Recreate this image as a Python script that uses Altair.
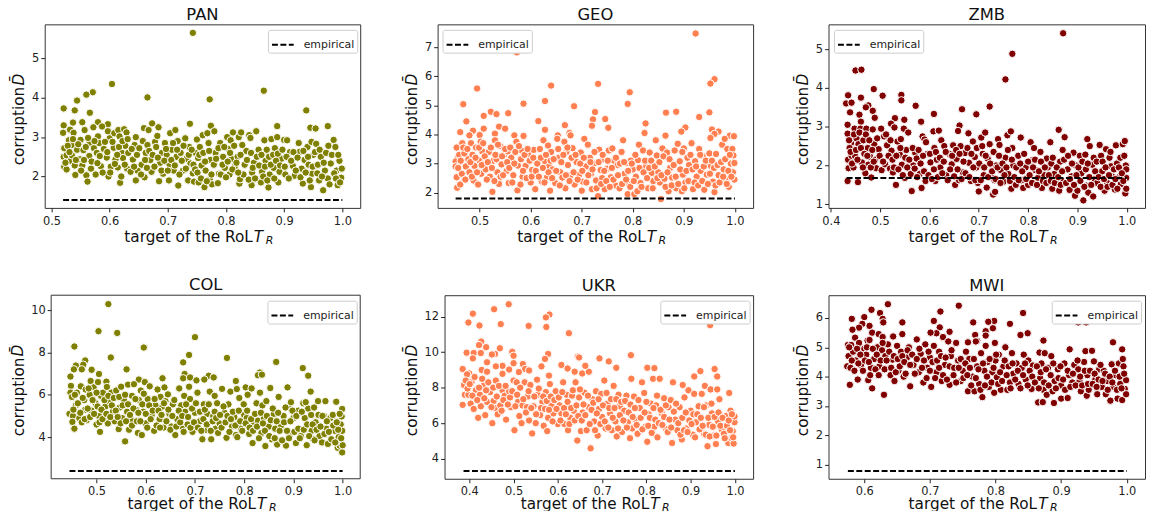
import altair as alt
import pandas as pd

PAN = [(.743,5.65),(.604,4.35),(.571,4.14),(.56,4.08),(.544,3.93),(.665,4.01),(.865,4.18),(.772,3.96),(.938,3.68),(.521,3.73),(.54,3.68),(.566,3.62),
(.975,3.28),(.888,3.28),(.945,3.24),(.954,3.22),(.738,3.34),(.774,3.29),(.673,3.35),(.597,3.33),(.58,3.38),(.537,3.37),(.553,3.38),(.521,3.3),
(.52,3.11),(.522,2.72),(.521,2.5),(.522,2.25),(.526,2.18),(.526,2.54),(.53,2.92),(.532,3.19),(.533,2.4),(.535,2.8),(.535,2.54),(.538,3.11),(.54,2.28),(.541,2.04),(.544,2.68),
(.549,2.44),(.55,2.93),(.553,2.28),(.555,2.67),(.557,3.18),(.56,2.03),(.562,1.87),(.565,2.52),(.566,2.86),(.568,2.2),(.572,3.25),(.573,2.72),(.576,2.05),(.578,2.6),(.58,3.02),(.582,2.85),(.585,2.26),(.587,3.27),(.59,2.7),
(.595,2.48),(.597,3.15),(.598,2.0),(.6,2.97),(.602,2.25),(.607,2.73),(.608,3.1),(.61,2.43),(.614,2.23),(.615,3.18),(.617,3.02),(.618,1.84),(.62,2.0),(.621,2.6),(.623,2.47),(.625,3.2),(.627,2.78),(.629,3.12),(.63,2.2),(.632,2.6),(.64,2.43),(.643,2.8),(.645,1.9),(.645,3.0),(.648,2.15),
(.655,2.3),(.657,2.9),(.659,3.23),(.66,1.98),(.662,2.6),(.665,2.8),(.667,3.18),(.67,2.42),(.672,2.12),(.678,2.88),(.682,3.03),(.684,3.25),(.685,1.88),(.687,2.35),(.69,2.6),(.692,2.07),(.695,2.85),(.698,2.55),
(.702,1.9),(.703,2.3),(.704,3.1),(.707,2.68),(.71,2.15),(.713,3.18),(.715,2.5),(.717,2.9),(.718,1.77),(.722,2.6),(.726,2.15),(.73,2.97),(.732,2.45),(.735,1.9),(.737,2.75),(.739,2.33),(.743,2.08),(.745,1.87),
(.748,2.6),(.75,2.94),(.752,2.47),(.753,1.85),(.755,2.75),(.758,2.28),(.76,3.05),(.763,1.73),(.765,2.15),(.768,3.1),(.77,2.85),(.772,1.93),(.773,2.42),(.776,1.8),(.78,3.15),(.782,2.6),(.786,1.83),(.788,2.07),(.79,2.85),
(.795,2.5),(.798,2.22),(.802,3.0),(.804,2.7),(.806,2.05),(.808,2.92),(.81,2.45),(.812,3.12),(.815,2.25),(.82,2.5),(.822,3.0),(.823,1.82),(.824,1.93),(.826,3.12),(.83,2.05),(.835,2.65),(.84,3.05),(.842,2.98),
(.844,1.78),(.845,2.1),(.848,2.35),(.852,3.15),(.856,2.68),(.86,1.85),(.862,2.12),(.866,2.92),(.868,2.4),(.87,2.68),(.873,1.72),(.875,2.05),(.878,2.95),(.882,2.22),(.884,2.72),(.888,3.0),(.89,1.85),(.892,2.12),(.895,2.45),
(.9,2.93),(.902,2.05),(.905,2.92),(.91,2.62),(.915,2.27),(.918,2.02),(.925,2.85),(.927,2.63),(.93,2.2),(.932,1.82),(.935,2.42),(.94,2.75),(.942,2.3),(.946,1.73),(.947,2.88),(.948,2.07),(.95,2.55),
(.955,2.83),(.957,2.08),(.96,1.9),(.963,2.5),(.967,1.65),(.97,2.15),(.975,1.95),(.976,2.78),(.98,2.33),(.985,2.93),(.988,2.75),(.99,2.15),(.992,1.78),(.995,2.4),(.998,1.97),(.999,2.2),
(.524,2.35),(.528,2.78),(.531,2.62),(.537,2.95),(.542,2.42),(.546,2.82),(.551,2.15),(.556,2.42),(.559,2.75),(.563,2.98),(.569,2.38),(.574,2.9),(.579,2.34),(.583,2.52),(.588,2.1),(.592,2.88),(.596,2.62),(.601,2.1),(.605,2.88),(.609,2.32),(.613,2.55),(.616,2.75),(.622,2.9),(.626,2.3),(.631,2.95),(.636,2.12),(.638,2.7),(.642,2.25),(.647,2.55),(.651,2.72),(.654,2.05),(.661,2.42),(.664,2.22),(.668,2.65),(.674,2.55),(.677,2.25),(.68,2.75),(.683,2.48),(.689,2.15),(.694,2.4),(.697,2.7),(.7,2.15),(.706,2.42),(.709,2.85),(.712,2.28),(.716,2.68),(.72,2.05),(.724,2.4),(.727,2.78),(.731,2.2),(.736,2.55),(.741,2.68),(.744,2.3),(.747,2.18),(.751,2.1),(.754,2.55),(.757,1.95),(.761,2.6),(.764,2.38),(.767,1.88),(.771,2.65),(.775,2.05),(.779,2.3),(.783,2.45),(.787,2.72),(.791,2.05),(.794,2.3),(.797,2.75),(.8,1.98),(.803,2.38),(.807,2.6),(.811,2.18),(.814,2.78),(.818,2.35),(.821,2.1),(.825,2.55),(.828,2.8),(.832,2.3),(.836,2.42),(.839,1.92),(.843,2.6),(.846,2.22),(.85,1.95),(.853,2.5),(.857,2.28),(.861,2.55),(.864,2.0),(.867,2.25),(.871,1.9),(.874,2.5),(.877,2.3),(.881,2.55),(.883,1.95),(.886,2.4),(.889,2.58),(.893,2.28),(.897,2.68),(.901,2.25),(.904,2.5),(.908,1.95),(.912,2.4),(.916,2.62),(.92,2.15),(.923,2.48),(.928,1.98),(.933,2.65),(.937,2.1),(.941,2.5),(.944,1.9),(.949,2.25),(.953,2.62),(.958,2.3),(.961,2.68),(.965,2.0),(.968,2.35),(.972,2.6),(.978,1.8),(.982,2.55),(.986,2.08),(.989,1.95),(.993,2.55),(.996,1.85)]

GEO = [(.923,7.47),(.573,6.82),(.96,5.9),(.952,5.75),(.732,5.74),(.64,5.68),(.495,5.58),(.794,5.45),(.628,5.15),(.468,5.04),(.586,5.06),(.79,5.05),(.685,4.97),
(.865,4.75),(.885,4.78),(.95,4.76),(.726,4.77),(.522,4.78),(.533,4.7),(.556,4.73),(.508,4.64),(.93,4.6),(.746,4.53),(.722,4.52),(.474,4.45),(.615,4.46),(.825,4.38),(.667,4.32),(.72,4.3),(.538,4.27),(.752,4.23),(.903,4.24),
(.55,4.2),(.508,4.2),(.628,4.16),(.955,4.17),(.895,4.1),(.968,4.1),(.487,4.13),(.462,4.08),(.823,4.05),(.53,4.03),(.96,4.02),(.676,4.05),(.568,3.97),(.586,3.95),(.864,3.96),(.952,3.88),(.99,3.96),(.998,3.94),
(.48,3.97),(.5,3.98),(.653,3.97),(.678,3.97),(.455,3.55),(.457,3.2),(.453,3.07),(.453,2.9),(.455,2.53),(.456,2.17),(.462,2.28),(.46,3.3),(.465,2.65),(.466,3.7),(.47,3.35),(.473,2.9),(.478,3.15),(.48,2.7),(.483,3.7),
(.486,3.3),(.488,2.42),(.49,2.92),(.493,3.55),(.497,2.28),(.5,3.1),(.503,2.65),(.502,3.75),(.505,3.42),(.508,2.98),(.512,2.8),(.518,3.4),(.52,2.55),(.525,2.03),(.527,3.1),(.53,3.8),(.533,3.15),(.535,2.7),(.538,2.3),(.54,3.6),
(.543,2.97),(.548,3.3),(.553,2.75),(.555,3.42),(.557,2.33),(.562,3.2),(.566,2.6),(.572,3.75),(.574,2.08),(.575,2.93),(.58,2.28),(.582,3.45),(.584,2.55),(.59,2.92),(.596,3.3),(.6,2.35),(.603,2.78),(.606,3.47),(.609,2.12),
(.618,3.5),(.622,2.38),(.625,3.8),(.628,3.08),(.632,2.53),(.634,3.62),(.636,2.9),(.638,2.07),(.64,3.4),(.643,2.8),(.648,2.33),(.652,3.85),(.655,3.2),(.658,2.7),(.662,2.52),(.666,3.75),(.668,2.15),(.67,3.4),(.673,2.95),(.678,2.6),(.682,3.53),(.686,2.28),(.69,3.05),
(.695,2.62),(.698,3.38),(.7,2.07),(.702,2.38),(.705,3.85),(.708,2.9),(.712,3.65),(.716,3.2),(.718,2.65),(.72,2.12),(.724,3.0),(.728,2.42),(.732,1.88),(.734,3.48),(.737,2.78),(.74,2.5),(.742,3.15),(.745,2.12),(.75,2.82),
(.753,3.45),(.757,2.53),(.76,3.52),(.763,3.1),(.766,2.25),(.77,2.95),(.774,2.15),(.778,3.4),(.781,3.8),(.784,2.65),(.788,3.02),(.79,1.95),(.792,2.35),(.796,3.1),(.8,2.8),(.803,1.95),(.806,2.55),(.81,3.12),(.812,3.65),(.815,2.33),
(.82,3.45),(.826,2.9),(.83,2.15),(.833,3.38),(.837,2.68),(.84,2.4),(.845,3.8),(.847,3.28),(.85,2.7),(.853,2.35),(.855,1.78),(.858,3.52),(.862,2.48),(.867,3.38),(.87,2.05),(.873,2.85),(.877,2.52),(.882,3.45),(.885,2.15),(.888,3.68),(.892,3.08),
(.896,2.05),(.898,2.62),(.9,3.52),(.903,2.35),(.907,3.2),(.91,2.95),(.915,3.7),(.918,2.12),(.922,3.08),(.925,2.55),(.93,3.5),(.933,2.75),(.937,3.25),(.94,2.1),(.945,2.62),(.95,3.35),(.953,2.92),(.957,2.38),(.96,2.02),(.963,3.33),(.968,2.6),(.975,3.65),(.978,2.8),(.98,3.85),(.982,2.45),(.985,3.5),(.988,2.2),
(.992,3.0),(.995,3.5),(.996,2.7),(.997,3.28),(.999,2.45),(.999,3.02),
(.458,2.85),(.463,3.1),(.468,3.55),(.472,2.45),(.476,3.5),(.482,3.05),(.485,2.55),(.492,3.2),(.495,2.7),(.499,3.55),(.504,2.95),(.507,3.7),(.51,3.25),(.514,2.45),(.516,3.05),(.522,3.55),(.524,2.85),(.529,2.4),(.531,3.3),(.536,3.65),(.541,2.55),(.544,3.25),(.546,2.6),(.55,3.5),(.554,3.05),(.558,2.85),(.56,3.55),(.564,2.35),(.568,3.0),(.57,3.4),(.577,3.6),(.581,3.15),(.585,2.75),(.588,3.3),(.592,2.5),(.594,3.5),(.598,3.1),(.602,2.55),(.605,3.2),(.61,2.75),(.613,3.0),(.616,2.55),(.62,3.2),(.624,2.85),(.627,2.35),(.63,3.3),(.635,2.7),(.639,3.1),(.642,2.5),(.645,3.15),(.65,2.75),(.654,3.5),(.657,2.25),(.66,3.05),(.664,3.3),(.669,2.6),(.672,3.55),(.676,2.4),(.68,3.2),(.684,2.7),(.688,3.3),(.692,2.45),(.697,3.0),(.701,2.75),(.704,3.2),(.709,2.35),(.713,2.6),(.717,3.05),(.721,2.8),(.725,3.4),(.729,2.15),(.733,3.05),(.738,2.3),(.741,3.3),(.744,2.75),(.748,2.4),(.751,3.1),(.755,2.2),(.759,2.85),(.762,2.45),(.767,3.2),(.771,2.6),(.775,3.0),(.779,2.3),(.783,3.05),(.787,2.45),(.791,2.75),(.795,2.2),(.798,3.0),(.802,2.4),(.805,3.3),(.809,2.05),(.813,2.85),(.817,2.2),(.821,2.7),(.824,3.1),(.828,2.5),(.832,2.85),(.836,3.1),(.839,2.15),(.843,2.9),(.848,2.5),(.852,3.05),(.856,2.6),(.86,3.25),(.864,2.2),(.868,2.7),(.872,3.15),(.876,2.25),(.88,2.95),(.884,2.55),(.889,2.3),(.893,2.8),(.897,3.4),(.901,2.15),(.905,2.75),(.909,2.4),(.913,3.3),(.917,2.8),(.921,2.35),(.924,2.9),(.928,2.25),(.932,3.3),(.936,2.4),(.939,2.9),(.943,3.1),(.947,2.3),(.951,2.65),(.955,3.1),(.959,2.85),(.962,2.25),(.966,2.95),(.97,2.35),(.973,3.05),(.977,2.55),(.981,3.15),(.984,2.3),(.987,2.75),(.99,3.3),(.993,2.55)]

ZMB = [(.871,5.41),(.768,4.88),(.45,4.45),(.462,4.47),(.754,4.22),(.487,3.97),(.435,3.81),(.543,3.82),(.505,3.8),(.461,3.75),(.543,3.68),(.431,3.6),(.442,3.62),(.476,3.55),(.572,3.54),(.722,3.52),(.471,3.5),(.666,3.45),(.485,3.41),(.439,3.37),(.695,3.32),(.609,3.33),(.458,3.31),
(.489,3.23),(.53,3.22),(.549,3.18),(.583,3.13),(.522,3.08),(.461,3.13),(.434,3.05),(.661,3.03),(.434,2.82),(.448,2.95),(.441,2.58),(.438,2.45),(.435,2.15),(.436,1.93),(.434,1.6),(.455,1.57),(.442,2.25),(.446,1.95),(.449,2.25),(.452,2.7),(.456,2.55),(.46,2.95),(.463,2.08),(.466,2.65),(.47,1.8),(.472,2.95),(.475,2.45),(.476,2.02),(.48,2.22),(.482,1.69),
(.485,2.93),(.488,2.55),(.49,2.15),(.492,1.93),(.497,2.42),(.502,2.95),(.503,1.88),(.508,2.75),(.51,2.03),(.514,2.52),(.52,1.92),(.523,2.38),(.526,1.82),(.529,2.98),(.532,1.5),(.535,2.62),(.54,2.28),(.542,2.68),(.544,2.02),(.548,2.95),(.55,1.68),(.553,2.4),(.557,2.85),(.564,1.34),(.567,2.0),(.571,2.33),(.574,2.18),
(.58,1.78),(.584,1.42),(.586,2.75),(.59,2.67),(.592,1.6),(.596,2.3),(.602,2.08),(.608,2.88),(.61,2.45),(.612,1.6),(.615,2.15),(.619,2.9),(.622,1.95),(.624,2.65),(.63,2.5),(.634,1.75),(.64,2.3),(.645,2.03),(.648,2.52),(.652,1.5),(.655,2.17),(.658,2.89),(.66,1.62),(.663,2.5),(.668,1.82),(.672,2.32),(.679,2.83),(.68,2.07),(.684,1.6),(.688,2.62),(.692,2.22),(.695,1.95),(.698,1.55),(.7,1.33),
(.705,2.72),(.708,2.3),(.71,1.75),(.713,2.85),(.716,1.43),(.718,2.18),(.722,2.55),(.725,1.75),(.729,1.25),(.732,1.62),(.733,1.32),(.735,2.0),(.739,2.68),(.742,2.53),(.745,1.88),(.75,1.58),(.754,2.2),(.758,2.78),(.76,1.78),(.765,2.88),(.766,1.4),(.768,2.45),(.77,2.0),(.775,1.5),(.78,2.25),(.785,2.72),(.787,1.62),(.79,1.42),(.795,1.95),(.8,1.5),(.805,2.6),(.807,2.13),
(.812,2.45),(.815,1.88),(.82,1.68),(.825,2.35),(.828,1.42),(.833,1.75),(.838,2.18),(.84,1.95),(.845,2.6),(.847,2.05),(.849,1.4),(.853,1.78),(.862,2.92),(.863,1.35),(.865,2.1),(.868,1.6),(.87,2.4),(.874,2.73),(.88,1.9),(.884,1.37),(.888,1.72),(.892,2.33),(.895,1.22),(.897,2.0),(.9,1.35),(.905,2.25),(.908,1.8),(.912,1.1),(.916,2.28),(.918,1.48),(.92,2.68),(.922,1.3),(.925,2.5),(.93,2.02),(.932,1.2),(.935,1.65),
(.94,1.55),(.945,2.53),(.948,2.25),(.95,1.85),(.955,1.35),(.958,2.42),(.96,1.55),(.965,2.2),(.968,1.98),(.97,1.72),(.976,1.38),(.978,2.52),(.98,2.05),(.985,1.7),(.988,1.52),(.992,2.55),(.996,2.63),(.997,1.28),(.998,2.0),(.999,1.68),(.999,1.4),(.999,1.9),
(.437,2.65),(.44,2.35),(.443,2.05),(.447,2.8),(.451,2.4),(.454,2.15),(.458,2.85),(.461,2.45),(.465,1.95),(.468,2.3),(.471,2.8),(.474,2.25),(.478,2.65),(.481,1.95),(.484,2.4),(.487,2.1),(.494,2.7),(.499,2.25),(.506,2.1),(.512,2.8),(.517,2.25),(.521,2.65),(.525,2.15),(.528,1.95),(.533,2.25),(.537,1.9),(.541,2.45),(.546,1.75),(.551,2.2),(.555,1.95),(.559,2.15),(.562,1.78),(.566,2.45),(.57,1.92),(.575,1.7),(.578,2.4),(.582,2.05),(.587,2.25),(.589,1.85),(.593,2.6),(.598,1.75),(.601,2.3),(.605,1.65),(.609,1.9),(.613,2.35),(.617,1.7),(.621,2.2),(.626,1.8),(.629,2.1),(.633,2.35),(.637,1.62),(.642,1.9),(.646,2.25),(.65,1.72),(.654,2.4),(.657,1.9),(.661,2.3),(.665,1.65),(.669,2.1),(.673,1.8),(.677,2.45),(.681,1.7),(.685,2.3),(.689,1.95),(.693,1.62),(.696,2.45),(.701,2.05),(.704,1.62),(.707,2.5),(.711,1.95),(.714,2.25),(.719,1.7),(.723,2.05),(.727,1.85),(.73,2.35),(.734,1.65),(.738,1.95),(.741,2.25),(.744,1.55),(.748,2.05),(.752,1.75),(.756,1.95),(.759,2.4),(.763,1.6),(.767,2.15),(.772,1.7),(.776,1.95),(.781,1.62),(.784,2.05),(.788,1.85),(.792,2.3),(.796,1.65),(.8,2.1),(.803,1.75),(.808,1.55),(.81,1.95),(.814,2.15),(.818,1.5),(.822,1.85),(.826,2.1),(.83,1.6),(.834,1.95),(.837,1.55),(.842,1.75),(.846,1.6),(.85,2.2),(.854,1.55),(.858,1.95),(.861,1.7),(.866,1.5),(.869,1.85),(.873,2.15),(.877,1.55),(.881,2.25),(.885,1.65),(.889,2.05),(.893,1.5),(.898,1.75),(.902,1.95),(.906,1.6),(.91,2.1),(.914,1.45),(.917,1.9),(.921,2.05),(.924,1.7),(.928,1.5),(.933,2.2),(.936,1.85),(.939,2.1),(.943,1.7),(.947,1.45),(.951,2.1),(.954,1.65),(.957,1.95),(.961,1.45),(.964,1.75),(.967,2.35),(.971,1.5),(.974,1.9),(.977,1.65),(.981,1.4),(.984,1.95),(.987,2.2),(.99,1.8),(.993,1.6),(.995,2.25)]

COL = [(.524,10.28),(.504,9.0),(.542,8.92),(.7,8.72),(.455,8.28),(.596,8.23),(.688,7.88),(.529,7.76),(.765,7.74),(.477,7.62),(.865,7.55),(.676,7.53),(.473,7.42),(.458,7.38),(.454,7.2),(.47,7.2),(.561,7.2),(.919,7.26),(.832,7.05),(.828,6.92),(.836,6.95),(.679,6.98),(.49,7.18),(.505,6.98),(.447,6.86),(.93,6.9),(.728,6.9),(.738,6.82),(.586,6.72),(.676,6.78),(.69,6.82),(.703,6.68),(.719,6.72),(.634,6.78),(.783,6.65),(.52,6.62),
(.448,6.42),(.447,6.1),(.45,5.9),(.445,5.1),(.452,5.0),(.451,4.72),(.455,4.4),(.458,5.5),(.46,6.1),(.465,4.9),(.468,6.4),(.47,4.7),(.475,5.75),(.477,5.3),(.478,6.25),(.48,4.8),(.486,6.0),(.488,6.65),(.49,5.25),(.494,6.35),(.498,5.6),(.5,4.6),(.503,6.6),(.505,5.0),(.507,4.25),(.509,5.95),(.513,6.1),(.518,5.45),(.521,6.37),(.523,4.65),(.526,5.7),(.53,6.1),
(.533,5.2),(.537,4.75),(.54,6.2),(.545,4.38),(.547,5.4),(.55,6.38),(.552,4.9),(.556,5.75),(.558,3.8),(.562,5.2),(.564,6.48),(.566,4.35),(.57,4.8),(.572,5.95),(.576,6.5),(.58,5.3),(.584,4.2),(.586,5.75),(.59,6.2),(.592,4.1),(.595,5.2),(.598,6.6),(.6,4.65),(.604,5.8),(.608,6.4),(.612,5.05),(.617,4.3),(.62,5.5),(.624,6.25),(.628,4.85),(.63,5.9),(.634,5.45),(.636,4.45),(.638,6.35),(.64,5.7),(.645,6.02),(.648,5.1),(.652,4.5),
(.655,5.55),(.66,4.1),(.664,4.85),(.668,6.3),(.672,5.5),(.675,4.4),(.678,5.95),(.68,5.2),(.685,4.6),(.688,6.38),(.69,5.8),(.695,4.25),(.7,5.15),(.705,6.1),(.71,4.75),(.715,3.9),(.718,5.55),(.722,4.35),(.725,5.1),(.73,6.15),(.733,3.9),(.737,5.0),(.74,5.95),(.742,4.4),(.745,5.6),(.75,4.65),(.755,6.28),(.76,5.15),(.764,3.97),(.768,5.55),(.772,6.15),(.775,4.5),(.78,4.95),(.783,4.1),(.785,6.27),(.79,5.85),
(.793,4.4),(.8,5.05),(.803,6.35),(.805,4.9),(.807,6.0),(.81,4.15),(.815,6.3),(.817,3.72),(.82,4.6),(.825,5.6),(.828,4.78),(.832,6.1),(.835,4.2),(.837,5.5),(.84,4.9),(.843,3.58),(.845,5.7),(.85,4.5),(.853,6.32),(.856,3.9),(.86,5.1),(.863,4.4),(.867,3.65),(.87,5.9),(.875,4.55),(.88,5.0),(.885,3.6),(.888,6.35),(.89,5.4),(.892,4.05),(.895,5.65),(.9,4.9),(.905,3.72),(.91,5.25),(.915,4.05),(.92,5.6),(.923,4.9),(.927,3.62),(.93,5.35),
(.935,6.15),(.937,4.3),(.94,3.92),(.942,5.4),(.945,4.7),(.95,5.7),(.953,4.05),(.958,3.75),(.962,5.0),(.965,5.7),(.967,4.4),(.97,3.68),(.975,4.9),(.98,5.05),(.984,4.3),(.987,5.67),(.99,3.5),(.992,4.0),(.994,3.6),(.996,4.6),(.998,4.98),(.999,5.33),(.999,4.3),(.999,3.28),(1.0,3.62),
(.453,5.3),(.456,6.0),(.462,5.6),(.467,5.15),(.472,5.85),(.476,4.85),(.482,5.35),(.484,6.3),(.487,4.95),(.492,5.75),(.495,5.1),(.5,6.1),(.502,5.45),(.506,4.7),(.51,5.3),(.512,4.85),(.516,5.75),(.52,5.1),(.524,5.95),(.528,4.95),(.531,5.5),(.535,5.85),(.539,5.25),(.543,4.95),(.546,5.9),(.549,4.65),(.553,5.5),(.558,6.0),(.56,4.75),(.564,5.55),(.568,5.05),(.572,4.55),(.575,5.35),(.579,5.8),(.582,4.75),(.585,5.15),(.589,4.75),(.593,5.55),(.596,6.05),(.6,5.1),(.603,4.45),(.607,5.5),(.61,4.85),(.614,5.25),(.618,5.8),(.622,4.55),(.626,5.25),(.629,4.45),(.632,5.05),(.637,5.6),(.642,4.75),(.646,5.3),(.65,4.35),(.654,5.0),(.658,5.75),(.662,4.5),(.667,5.25),(.67,4.7),(.674,5.0),(.677,4.25),(.682,5.55),(.686,4.95),(.691,4.45),(.694,5.35),(.698,4.7),(.702,5.6),(.706,4.45),(.71,5.2),(.713,4.3),(.717,4.85),(.72,5.3),(.724,4.6),(.728,5.55),(.732,4.3),(.736,4.75),(.74,5.2),(.743,4.9),(.747,4.2),(.751,5.05),(.754,4.45),(.758,5.45),(.762,4.7),(.766,5.0),(.77,4.25),(.773,4.85),(.777,5.2),(.782,4.55),(.786,4.0),(.789,5.25),(.792,4.75),(.796,4.3),(.799,5.55),(.803,4.65),(.806,5.25),(.811,4.45),(.814,4.85),(.818,4.3),(.822,5.1),(.826,4.5),(.83,3.95),(.834,5.15),(.838,4.65),(.842,4.3),(.846,5.0),(.851,4.05),(.854,4.8),(.858,5.35),(.862,3.95),(.866,4.75),(.869,5.15),(.872,4.3),(.877,3.85),(.881,4.7),(.884,5.4),(.887,4.3),(.891,3.95),(.894,4.75),(.898,5.25),(.902,4.25),(.906,5.0),(.91,4.4),(.913,3.95),(.917,5.2),(.921,4.35),(.925,5.65),(.928,4.6),(.932,4.05),(.936,5.05),(.939,4.6),(.943,3.85),(.947,4.35),(.951,5.05),(.955,4.5),(.959,5.0),(.963,4.15),(.968,4.75),(.972,4.25),(.977,3.9),(.981,4.55),(.985,3.75),(.988,4.7),(.991,4.35),(.994,5.1),(.997,3.95)]

UKR = [(.489,12.7),(.456,12.42),(.408,12.17),(.581,12.12),(.573,11.96),(.398,11.67),(.471,11.58),(.423,11.5),(.534,11.48),(.574,11.42),(.944,11.52),(.625,11.07),(.427,10.6),(.422,10.4),(.438,10.28),(.469,10.22),(.394,9.97),(.41,9.95),(.426,9.95),(.497,10.02),(.458,9.9),(.451,9.87),(.578,9.9),(.5,9.8),(.645,9.75),(.648,9.7),(.408,9.65),(.694,9.65),(.765,9.83),(.571,9.62),(.715,9.48),(.44,9.43),(.5,9.38),
(.608,9.28),(.521,9.33),(.563,9.2),(.732,9.12),(.802,9.12),(.818,9.1),(.954,9.05),(.526,9.05),(.622,9.08),(.475,9.23),(.46,9.2),(.49,9.02),(.428,9.0),(.385,9.05),(.44,8.9),(.4,8.8),(.475,8.78),(.512,8.88),(.535,8.97),(.638,8.9),(.655,8.8),(.67,8.9),(.662,9.23),(.922,8.93),(.96,8.63),(.908,8.63),(.58,8.68),
(.388,8.15),(.39,7.6),(.385,7.03),(.395,8.75),(.398,7.6),(.403,7.1),(.405,8.3),(.41,6.8),(.415,7.85),(.42,6.3),(.424,7.6),(.426,6.95),(.432,8.1),(.436,6.45),(.44,7.2),(.447,7.75),(.452,6.0),(.455,7.25),(.458,6.85),(.46,8.4),(.464,6.5),(.47,7.0),(.475,7.85),(.48,7.55),(.483,6.2),(.49,7.8),(.494,6.9),(.5,8.4),(.502,5.6),(.507,8.3),(.51,7.2),(.513,6.4),(.518,6.0),(.52,7.0),(.525,8.3),(.53,6.9),(.532,7.5),(.535,6.15),(.538,8.15),(.542,5.42),(.545,6.95),(.55,6.0),(.553,8.45),(.555,7.6),(.56,6.45),(.565,7.2),(.568,5.85),(.573,7.75),(.576,5.55),(.578,6.3),(.582,8.2),(.586,7.0),(.59,6.55),
(.595,7.8),(.6,5.95),(.604,7.0),(.608,6.55),(.612,8.3),(.615,5.95),(.62,7.6),(.623,5.6),(.628,6.3),(.632,7.55),(.636,6.7),(.64,8.3),(.644,5.02),(.648,7.45),(.652,5.55),(.656,6.6),(.66,7.72),(.665,5.6),(.67,6.9),(.674,4.58),(.678,7.35),(.682,6.1),(.686,7.8),(.69,5.3),(.693,6.8),(.698,7.65),(.7,6.35),(.705,8.4),(.708,5.7),(.712,7.1),(.718,6.55),(.722,5.6),(.726,8.1),(.73,6.1),(.733,5.25),(.737,7.6),(.74,6.95),(.745,5.5),(.75,6.7),(.755,7.55),(.758,6.05),(.763,5.15),(.766,8.5),(.768,5.7),(.772,7.5),(.776,6.2),(.78,5.4),(.785,6.85),(.79,8.3),(.795,7.7),(.798,5.8),(.802,4.95),(.805,6.5),(.81,7.1),(.815,8.5),(.818,5.8),(.822,7.0),(.825,5.2),(.83,8.5),(.835,6.55),(.84,7.4),(.845,5.65),(.85,6.9),(.855,7.3),(.858,4.88),(.86,8.3),(.865,6.2),(.87,5.6),(.875,6.9),(.88,5.08),(.882,8.15),(.886,7.45),(.89,5.7),(.895,7.85),(.9,6.7),(.905,5.35),(.908,7.65),(.912,6.05),(.918,6.95),(.925,7.65),(.93,5.4),(.932,8.1),(.935,7.0),(.938,4.7),(.942,5.9),(.945,7.9),(.948,6.55),(.952,5.3),(.957,4.82),(.96,7.9),(.962,6.1),(.965,7.35),(.97,5.65),(.975,5.4),(.98,6.4),(.985,4.88),(.987,7.7),(.99,6.7),(.992,5.15),(.995,5.55),(.997,4.85),(.999,6.05),(.999,6.38),
(.392,8.4),(.396,7.95),(.401,8.2),(.407,7.55),(.412,8.6),(.418,7.3),(.422,8.0),(.429,8.5),(.434,7.4),(.438,7.85),(.443,8.3),(.45,6.9),(.454,8.0),(.462,7.5),(.467,8.1),(.473,6.7),(.477,7.3),(.482,8.1),(.487,7.05),(.492,7.45),(.497,7.8),(.504,6.95),(.508,7.6),(.515,8.0),(.522,7.35),(.528,6.6),(.534,7.8),(.54,6.85),(.547,7.5),(.551,6.5),(.557,7.95),(.562,6.85),(.567,7.5),(.571,6.8),(.575,7.25),(.58,6.75),(.584,7.5),(.588,6.1),(.592,7.3),(.597,6.8),(.602,7.45),(.606,6.15),(.61,7.75),(.614,6.85),(.618,6.5),(.622,7.2),(.626,5.95),(.63,6.85),(.634,7.85),(.638,6.15),(.642,7.0),(.646,6.4),(.65,7.9),(.654,6.15),(.658,7.05),(.662,6.45),(.668,7.55),(.672,5.95),(.676,6.75),(.68,7.15),(.684,5.6),(.688,6.55),(.692,7.35),(.696,5.95),(.702,7.0),(.706,6.1),(.71,7.7),(.714,5.75),(.716,6.85),(.72,7.35),(.724,6.3),(.728,6.85),(.732,7.35),(.736,5.7),(.74,6.45),(.743,7.2),(.748,6.15),(.752,7.25),(.756,5.75),(.76,6.6),(.764,7.05),(.769,6.35),(.774,6.85),(.778,5.9),(.782,7.3),(.787,6.3),(.791,5.65),(.796,6.6),(.8,7.2),(.804,5.85),(.808,6.3),(.812,5.45),(.816,6.85),(.82,6.2),(.824,7.55),(.828,6.0),(.832,6.75),(.836,5.9),(.84,6.35),(.844,7.0),(.848,5.5),(.852,6.2),(.856,5.75),(.862,6.65),(.867,7.1),(.872,6.0),(.877,5.35),(.881,6.3),(.885,5.6),(.889,6.6),(.893,5.5),(.897,6.15),(.902,5.95),(.906,6.5),(.91,5.2),(.915,6.5),(.92,5.65),(.923,6.3),(.927,5.85),(.93,6.9),(.934,5.35),(.94,6.3),(.943,5.25),(.947,7.1),(.95,5.8),(.954,6.35),(.958,5.3),(.963,6.6),(.967,5.85),(.972,6.3),(.977,5.15),(.982,5.85),(.986,6.15),(.989,5.6),(.993,6.5),(.996,5.2)]

MWI = [(.636,6.47),(.744,6.42),(.611,6.28),(.716,6.22),(.842,6.17),(.624,6.17),(.6,6.03),(.581,5.97),(.628,5.97),(.963,5.92),(.706,5.9),(.798,5.9),(.766,5.85),(.658,5.85),(.629,5.85),(.789,5.87),(.926,5.85),(.938,5.85),(.597,5.8),(.822,5.8),(.608,5.73),(.796,5.65),(.592,5.67),(.715,5.68),(.582,5.6),(.73,5.53),(.849,5.48),(.71,5.48),(.785,5.55),(.612,5.5),(.622,5.45),(.838,5.42),(.658,5.45),(.701,5.5),(.769,5.42),(.785,5.4),(.72,5.33),(.586,5.33),(.628,5.35),(.644,5.37),(.979,5.17),(.873,5.23),(.605,5.23),(.772,5.22),(.758,5.17),(.799,5.15),
(.575,5.08),(.58,5.08),(.576,4.7),(.574,4.35),(.578,3.72),(.583,4.85),(.587,4.55),(.59,3.9),(.592,5.15),(.595,4.4),(.6,4.95),(.603,4.75),(.606,3.88),(.608,5.25),(.61,4.3),(.612,3.6),(.615,4.6),(.62,5.0),(.623,4.35),(.627,4.9),(.63,3.38),(.632,4.7),(.636,5.1),(.64,4.05),(.643,4.58),(.646,3.85),(.65,5.05),(.652,4.2),(.656,4.85),(.66,4.0),(.665,4.65),(.668,5.0),(.67,3.67),(.675,4.4),(.68,5.27),(.683,4.15),(.686,4.78),(.69,3.8),(.693,5.1),(.696,4.3),(.7,4.65),(.702,3.65),(.706,5.05),(.71,4.15),(.714,4.85),(.718,3.85),(.72,5.35),(.723,4.4),(.728,5.2),(.73,3.72),(.732,4.7),(.736,4.05),(.74,5.15),(.743,4.55),(.747,3.85),(.75,4.2),(.755,4.85),(.758,3.5),(.76,4.6),(.765,4.0),(.768,3.5),(.77,5.2),(.772,4.35),(.775,3.75),(.778,4.8),(.78,3.3),(.783,4.2),(.785,5.05),(.788,4.5),(.79,3.65),(.795,4.15),(.798,3.45),(.8,4.55),(.802,3.98),(.805,4.75),(.808,3.55),(.812,4.35),(.815,5.0),(.818,3.55),(.822,3.8),(.825,4.8),(.827,4.1),(.832,4.45),(.835,3.75),(.84,4.3),(.843,4.75),(.846,3.9),(.85,4.55),(.855,3.58),(.857,4.38),(.865,3.12),(.867,4.82),(.868,3.95),(.87,4.45),(.872,3.13),(.873,3.55),(.875,4.8),(.878,3.38),(.88,4.3),(.885,4.7),(.887,3.5),(.889,3.1),(.89,3.85),(.895,4.25),(.9,3.7),(.9,3.25),(.905,4.45),(.91,3.27),(.912,4.05),(.913,4.93),(.917,3.8),(.92,4.4),(.926,4.25),(.928,3.85),(.93,3.5),(.935,4.5),(.937,4.87),(.939,3.35),(.94,4.05),(.942,3.55),(.947,4.88),(.95,4.52),(.952,3.9),(.955,3.4),(.958,4.25),(.962,3.65),(.965,4.2),(.968,3.4),(.97,3.85),(.975,3.18),(.977,4.42),(.98,3.65),(.983,4.05),(.986,3.25),(.988,4.45),(.99,3.75),(.993,3.2),(.993,4.93),(.994,4.6),(.995,4.35),(.997,3.58),(.999,3.4),(.999,3.88),
(.577,5.0),(.579,4.3),(.581,4.55),(.585,4.2),(.589,4.95),(.591,4.45),(.594,4.75),(.598,4.2),(.601,4.55),(.604,5.0),(.607,4.5),(.609,4.05),(.613,4.95),(.617,4.25),(.619,4.75),(.622,4.05),(.625,4.55),(.628,5.15),(.631,4.25),(.634,4.55),(.638,4.85),(.641,4.3),(.645,4.7),(.648,4.15),(.651,4.6),(.654,4.35),(.658,4.7),(.661,4.5),(.663,4.1),(.666,4.9),(.67,4.4),(.673,4.75),(.677,4.1),(.68,4.6),(.684,4.95),(.688,4.3),(.691,4.55),(.695,3.95),(.698,4.85),(.7,4.2),(.704,4.5),(.708,3.95),(.711,4.55),(.714,4.3),(.717,4.7),(.72,4.05),(.724,4.65),(.726,3.9),(.73,4.35),(.733,4.9),(.737,4.3),(.74,3.8),(.744,4.3),(.747,4.6),(.751,3.95),(.754,4.45),(.757,4.05),(.761,4.3),(.763,3.7),(.767,4.6),(.77,3.95),(.774,4.25),(.777,3.55),(.781,4.45),(.784,3.7),(.787,4.0),(.791,4.6),(.794,3.8),(.797,4.3),(.801,4.75),(.804,3.75),(.807,4.15),(.81,3.85),(.814,4.55),(.817,4.05),(.82,4.35),(.823,3.6),(.826,4.45),(.83,3.9),(.834,4.2),(.838,3.6),(.842,4.05),(.845,4.45),(.849,3.7),(.852,4.2),(.856,4.0),(.86,3.8),(.863,4.35),(.866,3.6),(.869,4.15),(.874,3.8),(.877,4.25),(.881,3.7),(.884,4.05),(.888,4.45),(.892,3.6),(.896,3.95),(.899,4.35),(.903,3.9),(.906,3.55),(.91,4.2),(.914,3.65),(.918,4.1),(.922,3.7),(.925,4.55),(.929,4.0),(.932,3.7),(.936,4.2),(.941,3.75),(.944,4.2),(.948,3.75),(.951,4.1),(.954,3.65),(.957,3.9),(.96,4.4),(.963,3.85),(.967,4.1),(.971,3.55),(.974,4.0),(.978,3.8),(.982,4.2),(.985,3.55),(.989,4.0),(.992,3.6),(.996,4.1)]

empirical = {"PAN":(.52,1.4),"GEO":(.453,1.8),"ZMB":(.432,1.68),"COL":(.445,2.4),"UKR":(.387,3.3),"MWI":(.575,.78)}
OLIVE, CORAL, MAROON = "#808000", "#ff7f50", "#800000"

def panel(name, pts, color, xdom, ydom, xticks, yticks, w, ext, lx, tx, inset=0, ty=34, lp=3.5):
    h = 185
    cx = inset + (w - inset) / 2
    df = pd.DataFrame(pts, columns=["x","y"])
    xs = alt.Scale(domain=xdom, nice=False, zero=False, range=[inset, w])
    ys = alt.Scale(domain=ydom, nice=False, zero=False)
    common = dict(grid=False, labelOverlap=False, tickCount=20, titleBaseline="alphabetic", titleAlign="center", titleFontWeight="normal", titleFontSize=15.4,
                  labelFontSize=11.5, tickSize=4, tickColor="#222", labelColor="#222", titleColor="#111", domain=False)
    xax = alt.Axis(values=xticks, format=".1f", title="target of the RoL", titleX=cx-14.5, titleY=ty, labelPadding=lp, **common)
    yax = alt.Axis(values=yticks, format="d", title="corruption", titleX=tx, titleY=102, titleAngle=270, minExtent=ext, maxExtent=ext, offset=-inset, labelPadding=2, **common)
    pts_l = alt.Chart(df).mark_point(filled=True, size=56, fill=color, stroke="white", strokeWidth=1, opacity=1).encode(
        x=alt.X("x:Q", scale=xs, axis=xax), y=alt.Y("y:Q", scale=ys, axis=yax))
    x0, v = empirical[name]
    ldf = pd.DataFrame({"x":[x0,1.0],"y":[v,v],"s_"+name:["empirical"]*2})
    line = alt.Chart(ldf).mark_line(strokeDash=[6,2.5], strokeWidth=2).encode(
        x=alt.X("x:Q", scale=xs), y=alt.Y("y:Q", scale=ys),
        color=alt.Color("s_"+name+":N", scale=alt.Scale(domain=["empirical"], range=["black"]),
            legend=alt.Legend(title=None, orient="none", legendX=lx, legendY=5.5, fillColor="white", strokeColor="#cccccc", cornerRadius=2, padding=3,
                symbolType="stroke", symbolDash=[6,2.5], symbolStrokeWidth=2, symbolSize=480, labelFontSize=11, labelColor="#222", labelOffset=9, symbolOffset=0)))
    def txt(s, px, py, angle=0, size=15.4):
        return alt.Chart(pd.DataFrame({"t":[s]})).mark_text(font="DejaVu Sans", fontStyle="italic", fontSize=size, angle=angle, color="#111", baseline="alphabetic", align="center").encode(
            x=alt.value(px), y=alt.value(py), text="t:N")
    layers = [pts_l, line, txt("T", cx+56.5, h+ty), txt("R", cx+67.5, h+ty+2.5, size=11), txt("D\u0304", inset+tx, 55.8, angle=270)]
    view = {}
    if inset:
        fr = alt.Chart(pd.DataFrame({"f":[0]})).mark_rect(fill="transparent", stroke="#333", strokeWidth=1).encode(
            x=alt.value(inset), x2=alt.value(w), y=alt.value(0), y2=alt.value(h))
        layers.insert(0, fr)
        view = dict(view=alt.ViewConfig(stroke="transparent"))
    return alt.layer(*layers).properties(width=w, height=h,
        title=alt.TitleParams(name, fontSize=16.5, fontWeight="normal", offset=1, color="#111", dx=inset/2), **view)

X5 = [.5,.6,.7,.8,.9,1.0]; X4 = [.4,.5,.6,.7,.8,.9,1.0]; X6 = [.6,.7,.8,.9,1.0]
row1 = alt.hconcat(
    panel("PAN", PAN, OLIVE, [.4884,1.0307], [1.202,5.866], X5, [2,3,4,5], 318, 36, 225, -21),
    panel("GEO", GEO, CORAL, [.4177,1.0356], [1.477,7.784], X5, [2,3,4,5,6,7], 318, 37, 5, -21),
    panel("ZMB", ZMB, MAROON, [.3953,1.037], [.906,5.64], X4, [1,2,3,4,5], 319, 35, 5.5, -21), spacing=39).resolve_scale(color="independent").resolve_legend(color="independent")
row2 = alt.hconcat(
    panel("COL", COL, OLIVE, [.4078,1.0357], [2.036,10.70], X5, [4,6,8,10], 318, 36, 224.5, -28, inset=6.5, ty=30, lp=2.5),
    panel("UKR", UKR, CORAL, [.3441,1.041], [2.865,13.21], X4, [4,6,8,10,12], 311, 44, 217.5, -28, ty=30, lp=2.5),
    panel("MWI", MWI, MAROON, [.5455,1.0278], [.516,6.777], X6, [1,2,3,4,5,6], 319, 35, 225, -21, ty=30, lp=2.5), spacing=39).resolve_scale(color="independent").resolve_legend(color="independent")
chart = alt.vconcat(row1, row2, spacing=30).resolve_scale(color="independent").resolve_legend(color="independent").properties(padding={"top":-3.5,"left":0,"right":0,"bottom":-5}, background="white").configure(font="DejaVu Sans", view=alt.ViewConfig(stroke="#333", strokeWidth=1))
chart.save("out.html", embed_options={"renderer": "svg", "actions": False})
